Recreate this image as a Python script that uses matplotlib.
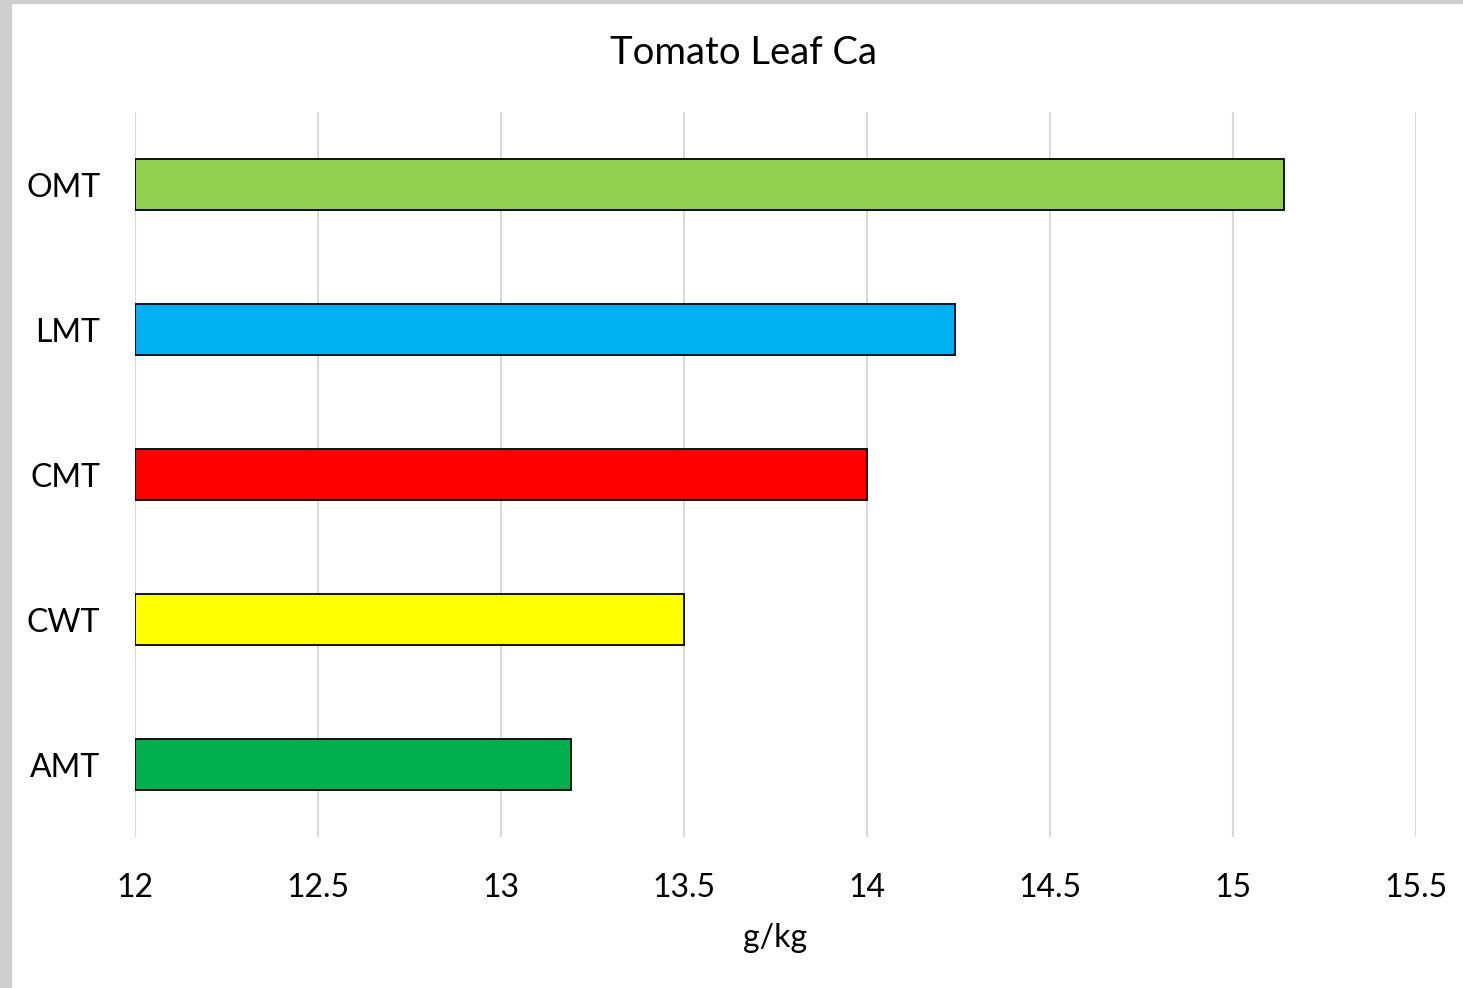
import matplotlib.pyplot as plt
from matplotlib.patches import Rectangle

# data (top to bottom as drawn)
categories = ["OMT", "LMT", "CMT", "CWT", "AMT"]
values = [15.14, 14.24, 14.0, 13.5, 13.19]
colors = ["#92D050", "#00B0F0", "#FF0000", "#FFFF00", "#00B050"]
x_ticks = [12, 12.5, 13, 13.5, 14, 14.5, 15, 15.5]
x_labels = ["12", "12.5", "13", "13.5", "14", "14.5", "15", "15.5"]

plt.rcParams["font.family"] = ["Lato", "DejaVu Sans"]

W, H = 1463, 988
fig = plt.figure(figsize=(W / 100, H / 100), dpi=100)
ax = fig.add_axes([135 / W, 1 - 837 / H, 1281 / W, 725 / H])

# grey border of the screenshot
fig.patches.append(Rectangle((0, 0), 11 / W, 1, transform=fig.transFigure,
                             color="#d0cfd0", zorder=0))
fig.patches.append(Rectangle((0, 1 - 3 / H), 1, 3 / H, transform=fig.transFigure,
                             color="#d0cfd0", zorder=0))

ypos = list(range(len(categories)))[::-1]
base = x_ticks[0]
ax.barh(ypos, [v - base for v in values], left=base, height=0.35,
        color=colors, edgecolor="black", linewidth=1.3, zorder=3)

ax.set_xlim(x_ticks[0], x_ticks[-1])
ax.set_ylim(-0.5, len(categories) - 0.5)
ax.set_xticks(x_ticks)
ax.set_xticklabels(x_labels)
ax.set_yticks(ypos)
ax.set_yticklabels(categories)
ax.tick_params(axis="both", length=0, labelsize=23)
ax.tick_params(axis="x", pad=26)
ax.tick_params(axis="y", pad=25)
ax.grid(axis="x", color="#d9d9d9", linewidth=1.5, zorder=0)
for s in ax.spines.values():
    s.set_visible(False)

ax.set_xlabel("g/kg", fontsize=23, labelpad=14)
fig.text(743 / W, 1 - 53 / H, "Tomato Leaf Ca", fontsize=27.5,
         ha="center", va="center")

fig.savefig("out.png", dpi=100)
